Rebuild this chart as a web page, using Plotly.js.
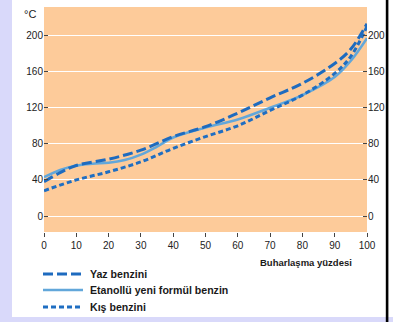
<!DOCTYPE html>
<html>
<head>
<meta charset="utf-8">
<script src="https://cdn.plot.ly/plotly-3.0.1.min.js"></script>
<style>html,body{margin:0;padding:0;background:#fff;}#chart{width:393px;height:322px;}</style>
</head>
<body>
<div id="chart"></div>
<script>
// ---- data ----
const seriesNames = ["Yaz benzini", "Etanollü yeni formül benzin", "Kış benzini"];
const xYaz = [0, 5, 10, 20, 30, 40, 50, 60, 70, 80, 90, 95, 100];
const yYaz = [38, 48, 56, 63, 73, 88, 99, 114, 131, 147, 169, 185, 213];
const xEtanol = [0, 5, 10, 15, 20, 25, 30, 35, 40, 50, 60, 70, 80, 90, 95, 100];
const yEtanol = [43, 51, 56, 58, 59, 62, 68, 77, 87, 98, 107, 120, 134, 154, 172, 197];
const xKis = [0, 10, 20, 30, 40, 50, 60, 70, 80, 90, 95, 100];
const yKis = [28, 40, 49, 60, 75, 88, 100, 117, 134, 158, 177, 210];
const xTicks = [0, 10, 20, 30, 40, 50, 60, 70, 80, 90, 100];
const yTicks = [0, 40, 80, 120, 160, 200];
const xTitle = "Buharlaşma yüzdesi";
const yUnit = "°C";

// ---- layout helpers (pixel -> paper) ----
const W = 393, H = 322;
const M = {l: 44, r: 26, t: 7, b: 90};
const PW = W - M.l - M.r, PH = H - M.t - M.b;
const px = x => (x - M.l) / PW;
const py = y => (H - M.b - y) / PH;

const FONT = "Liberation Sans, Arial, sans-serif";
const styles = [
  {color: "#1e6bbf", width: 3, dash: "10px,4px"},
  {color: "#62a7da", width: 2.5, dash: "solid"},
  {color: "#1f6ec2", width: 3, dash: "5px,3px"}
];
const xs = [xYaz, xEtanol, xKis], ys = [yYaz, yEtanol, yKis];

const traces = seriesNames.map((n, i) => ({
  x: xs[i], y: ys[i], name: n, type: "scatter", mode: "lines",
  line: {color: styles[i].color, width: styles[i].width, dash: styles[i].dash, shape: "spline", smoothing: 1},
  hoverinfo: "skip"
}));
const ordered = [traces[1], traces[2], traces[0]];
ordered.push({x: xYaz, y: yYaz, yaxis: "y2", type: "scatter", mode: "lines",
  line: {width: 0, color: "rgba(0,0,0,0)"}, showlegend: false, hoverinfo: "skip"});

const yRange = [-17.7, 231.6];
const shapes = [
  {type: "rect", xref: "paper", yref: "paper", x0: px(0), x1: px(12), y0: py(H), y1: py(0),
   fillcolor: "#d9d9fa", line: {width: 0}},
  {type: "rect", xref: "paper", yref: "paper", x0: px(0), x1: px(W), y0: py(H), y1: py(317),
   fillcolor: "#d9d9fa", line: {width: 0}},
  {type: "rect", xref: "paper", yref: "paper", x0: px(385.8), x1: px(388.4), y0: py(H), y1: py(0),
   fillcolor: "#000000", line: {width: 0}}
];
const legY = [274, 290, 307];
const annotations = [
  {text: yUnit, xref: "paper", yref: "paper", x: px(38), y: py(14), xanchor: "right", yanchor: "middle",
   showarrow: false, font: {family: FONT, size: 11, color: "#222"}},
  {text: "<b>" + xTitle + "</b>", xref: "paper", yref: "paper", x: px(354), y: py(262), xanchor: "right", yanchor: "middle",
   showarrow: false, font: {family: FONT, size: 9.5, color: "#1a1a1a"}}
];
seriesNames.forEach((n, i) => {
  shapes.push({type: "line", xref: "paper", yref: "paper", x0: px(43), x1: px(83), y0: py(legY[i]), y1: py(legY[i]),
    line: {color: styles[i].color, width: styles[i].width, dash: styles[i].dash}});
  annotations.push({text: "<b>" + n + "</b>", xref: "paper", yref: "paper", x: px(88), y: py(legY[i]),
    xanchor: "left", yanchor: "middle", showarrow: false, font: {family: FONT, size: 10.6, color: "#1a1a1a"}});
});

const axisFont = {family: FONT, size: 10, color: "#222"};
const layout = {
  width: W, height: H, margin: M, showlegend: false,
  paper_bgcolor: "#ffffff", plot_bgcolor: "#fdcb9a",
  xaxis: {range: [0, 100], tickvals: xTicks, ticks: "outside", ticklen: 4, tickcolor: "#444", tickwidth: 1,
    showgrid: false, zeroline: false, showline: false, tickfont: axisFont, fixedrange: true},
  yaxis: {range: yRange, tickvals: yTicks, ticks: "inside", ticklen: 4, tickcolor: "#444", tickwidth: 1,
    showgrid: true, gridcolor: "#ffffff", gridwidth: 1, zeroline: false, showline: false, tickfont: axisFont},
  yaxis2: {range: yRange, tickvals: yTicks, overlaying: "y", side: "right", ticks: "inside", ticklen: 4,
    tickcolor: "#444", tickwidth: 1, showgrid: false, zeroline: false, showline: false, tickfont: axisFont},
  shapes: shapes, annotations: annotations
};
Plotly.newPlot("chart", ordered, layout, {staticPlot: true, displayModeBar: false});
</script>
</body>
</html>
